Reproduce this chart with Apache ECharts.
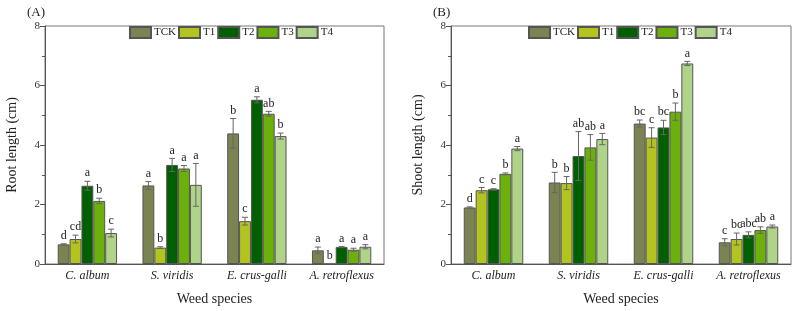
<!DOCTYPE html>
<html>
<head>
<meta charset="utf-8">
<script src="https://cdn.jsdelivr.net/npm/echarts@6/dist/echarts.min.js"></script>
<style>
  html, body { margin: 0; padding: 0; background: #fff; }
  #chart { width: 796px; height: 311px; }
</style>
</head>
<body>
<div id="chart"></div>
<script>
const species = ['C. album', 'S. viridis', 'E. crus-galli', 'A. retroflexus'];
const treatments = ['TCK', 'T1', 'T2', 'T3', 'T4'];
const colors = ['#7b8352', '#b3c41f', '#005f00', '#6cb10b', '#b0d38a'];

// Root length (A), one row per treatment
const rootMean = [
  [0.66, 2.64, 4.39, 0.46],
  [0.84, 0.55, 1.44, 0],
  [2.63, 3.33, 5.52, 0.57],
  [2.12, 3.21, 5.05, 0.48],
  [1.04, 2.66, 4.30, 0.58]
];
const rootErr = [
  [0.02, 0.13, 0.50, 0.11],
  [0.13, 0.03, 0.13, 0],
  [0.15, 0.22, 0.10, 0.02],
  [0.09, 0.10, 0.08, 0.05],
  [0.13, 0.72, 0.10, 0.07]
];
const rootLetters = [
  ['d', 'a', 'b', 'a'],
  ['cd', 'b', 'c', 'b'],
  ['a', 'a', 'a', 'a'],
  ['b', 'a', 'ab', 'a'],
  ['c', 'a', 'b', 'a']
];

// Shoot length (B)
const shootMean = [
  [1.90, 2.74, 4.72, 0.73],
  [2.48, 2.72, 4.25, 0.84],
  [2.51, 3.63, 4.59, 0.98],
  [3.03, 3.92, 5.12, 1.14],
  [3.88, 4.20, 6.74, 1.26]
];
const shootErr = [
  [0.02, 0.34, 0.12, 0.12],
  [0.09, 0.22, 0.33, 0.20],
  [0.02, 0.82, 0.24, 0.10],
  [0.03, 0.43, 0.29, 0.11],
  [0.07, 0.19, 0.07, 0.05]
];
const shootLetters = [
  ['d', 'b', 'bc', 'c'],
  ['c', 'b', 'c', 'bc'],
  ['c', 'ab', 'bc', 'abc'],
  ['b', 'ab', 'b', 'ab'],
  ['a', 'a', 'a', 'a']
];

const yTicks = [0, 2, 4, 6, 8];

const serif = '"Liberation Serif", "DejaVu Serif", serif';
const axisColor = '#555';
const catGap = 0.3;

function errorSeries(gi, ti, means, errs, letters) {
  return {
    type: 'custom',
    xAxisIndex: gi,
    yAxisIndex: gi,
    z: 5,
    silent: true,
    data: species.map((s, j) => [j, means[ti][j], errs[ti][j]]),
    encode: { x: 0, y: 1 },
    renderItem: function (params, api) {
      const j = api.value(0);
      const v = api.value(1);
      const e = api.value(2);
      const band = api.size([1, 0])[0];
      const bw = band * (1 - catGap) / treatments.length;
      const x = api.coord([j, v])[0] + (ti - 2) * bw;
      const top = api.coord([j, v + e])[1];
      const bot = api.coord([j, v - e])[1];
      const children = [];
      if (e > 0) {
        const ls = { stroke: '#666', lineWidth: 1 };
        children.push({ type: 'line', shape: { x1: x, y1: top, x2: x, y2: bot }, style: ls });
        children.push({ type: 'line', shape: { x1: x - 3, y1: top, x2: x + 3, y2: top }, style: ls });
        children.push({ type: 'line', shape: { x1: x - 3, y1: bot, x2: x + 3, y2: bot }, style: ls });
      }
      children.push({
        type: 'text',
        style: {
          text: letters[ti][j],
          x: x,
          y: top - 2,
          align: 'center',
          verticalAlign: 'bottom',
          fontFamily: serif,
          fontSize: 12,
          fill: '#222'
        }
      });
      return { type: 'group', children: children };
    }
  };
}

function barSeries(gi, means) {
  return treatments.map((t, i) => ({
    name: t,
    type: 'bar',
    xAxisIndex: gi,
    yAxisIndex: gi,
    barGap: '0%',
    barCategoryGap: (catGap * 100) + '%',
    data: means[i],
    itemStyle: { color: colors[i], borderColor: '#555', borderWidth: 1 }
  }));
}

function xAx(gi) {
  return {
    type: 'category',
    gridIndex: gi,
    data: species,
    axisLine: { lineStyle: { color: axisColor } },
    axisTick: { show: false },
    axisLabel: { fontFamily: serif, fontStyle: 'italic', fontSize: 12, color: '#222', margin: 6 },
    name: 'Weed species',
    nameLocation: 'middle',
    nameGap: 28,
    nameTextStyle: { fontFamily: serif, fontSize: 14, color: '#222' }
  };
}

function yAx(gi, name, gap) {
  return {
    type: 'value',
    gridIndex: gi,
    min: yTicks[0],
    max: yTicks[yTicks.length - 1],
    interval: yTicks[1] - yTicks[0],
    axisLine: { show: true, lineStyle: { color: axisColor } },
    axisTick: { show: true, inside: false, length: 5, lineStyle: { color: axisColor } },
    minorTick: { show: true, splitNumber: 2, length: 3, lineStyle: { color: axisColor } },
    splitLine: { show: false },
    axisLabel: { fontFamily: serif, fontSize: 11, color: '#333', margin: 5 },
    name: name,
    nameLocation: 'middle',
    nameGap: gap,
    nameTextStyle: { fontFamily: serif, fontSize: 14, color: '#222' }
  };
}

const chart = echarts.init(document.getElementById('chart'), null, { renderer: 'canvas' });

const series = [].concat(
  barSeries(0, rootMean),
  barSeries(1, shootMean),
  treatments.map((t, i) => errorSeries(0, i, rootMean, rootErr, rootLetters)),
  treatments.map((t, i) => errorSeries(1, i, shootMean, shootErr, shootLetters))
);

const legendBase = {
  data: treatments,
  top: 26,
  itemWidth: 21,
  itemHeight: 11,
  itemGap: 2,
  icon: 'rect',
  selectedMode: false,
  textStyle: { fontFamily: serif, fontSize: 11, color: '#222', padding: [0, 0, 0, -2] },
  padding: 0
};

const panelTitle = { top: 6, padding: 0, textStyle: { fontFamily: serif, fontSize: 13, fontWeight: 'normal', color: '#222' } };

chart.setOption({
  animation: false,
  backgroundColor: '#fff',
  title: [
    Object.assign({ text: '(A)', left: 27 }, panelTitle),
    Object.assign({ text: '(B)', left: 433 }, panelTitle)
  ],
  legend: [
    Object.assign({}, legendBase, { left: 129 }),
    Object.assign({}, legendBase, { left: 528 })
  ],
  grid: [
    { left: 45, top: 26, width: 339, bottom: 42, show: true, borderColor: '#777', borderWidth: 1 },
    { left: 451, top: 26, width: 340, bottom: 42, show: true, borderColor: '#777', borderWidth: 1 }
  ],
  xAxis: [xAx(0), xAx(1)],
  yAxis: [yAx(0, 'Root length (cm)', 26), yAx(1, 'Shoot length (cm)', 26)],
  series: series
});
</script>
</body>
</html>
